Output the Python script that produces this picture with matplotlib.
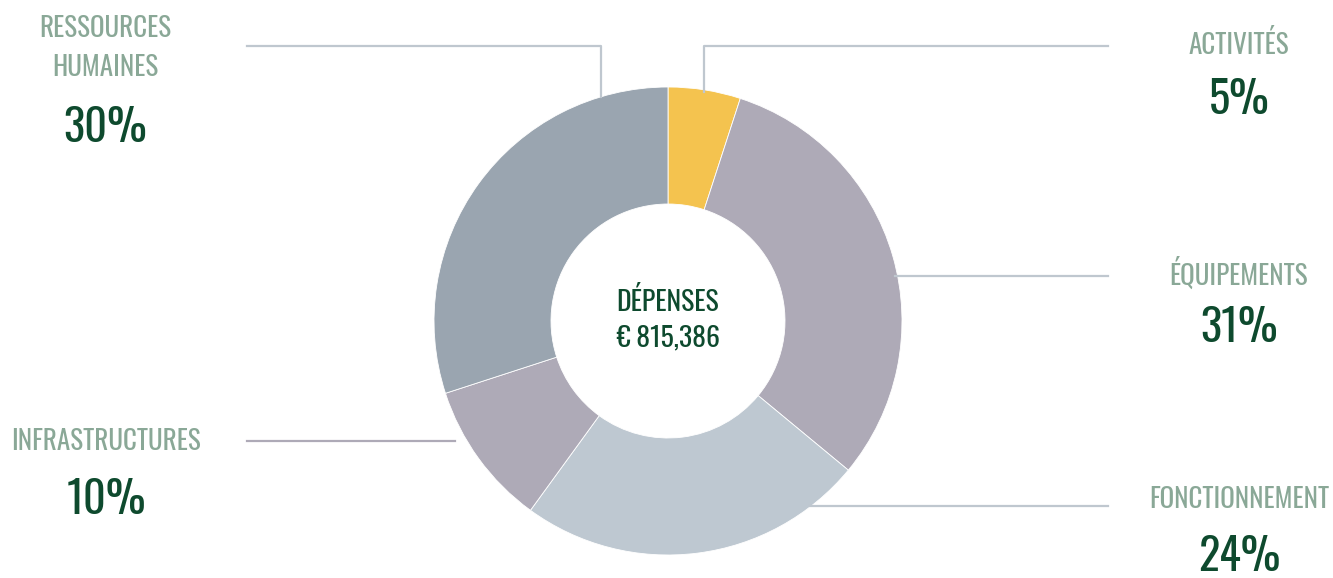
import matplotlib
matplotlib.use("Agg")
import matplotlib.pyplot as plt

# budget split, clockwise from 12 o'clock
categories = ["ACTIVITÉS", "ÉQUIPEMENTS", "FONCTIONNEMENT", "INFRASTRUCTURES", "RESSOURCES\nHUMAINES"]
shares = [5, 31, 24, 10, 30]
colors = ["#f4c34f", "#aeaab7", "#bec8d1", "#aeaab7", "#9aa5b0"]
total_label = "DÉPENSES\n€ 815,386"

W, H = 1333, 578
plt.rcParams['font.family'] = ['Oswald', 'Bebas Neue', 'DejaVu Sans']
light = ['Oswald Light', 'Oswald', 'DejaVu Sans']
xlight = ['Oswald ExtraLight', 'Oswald Light', 'Oswald', 'DejaVu Sans']

fig = plt.figure(figsize=(W / 100, H / 100), dpi=100)
ax = fig.add_axes([0, 0, 1, 1])


def py(y):
    # pixel row (top-down) -> data y
    return H - y


cx, cy, R = 668, 321, 234
ax.pie(shares, colors=colors, startangle=90, counterclock=False,
       center=(cx, py(cy)), radius=R, frame=True,
       wedgeprops=dict(width=R - 117, edgecolor="white", linewidth=0.6))
ax.set_xlim(0, W)
ax.set_ylim(0, H)
ax.set_aspect("equal")
ax.axis("off")

label_col = "#8aa897"
pct_col = "#0e4a2e"
line_col = "#bfc7cf"

# leader lines
ax.plot([247, 601, 601], [py(46), py(46), py(97)], color=line_col, lw=1.6)
ax.plot([704, 704, 1108], [py(92), py(46), py(46)], color=line_col, lw=1.6)
ax.plot([895, 1108], [py(276), py(276)], color=line_col, lw=1.6)
ax.plot([810, 1108], [py(506), py(506)], color=line_col, lw=1.6)
ax.plot([247, 455], [py(441), py(441)], color="#aeaab7", lw=1.6)

# label anchors (x, label y, pct y) in pixels
anchors = [(1239, 45, 100), (1239, 273, 328), (1239, 500, 557), (106, 441, 500), (105, 48, 128)]
for cat, val, (x, ly, pcy) in zip(categories, shares, anchors):
    ax.text(x, py(ly), cat, ha="center", va="center", fontsize=19.5,
            color=label_col, family=light, linespacing=1.55)
    ax.text(x, py(pcy), f"{val}%", ha="center", va="center", fontsize=32,
            color=pct_col, family=xlight)

ax.text(cx, py(319), total_label, ha="center", va="center", fontsize=20,
        color=pct_col, linespacing=1.4)

fig.savefig("out.png", dpi=100)
